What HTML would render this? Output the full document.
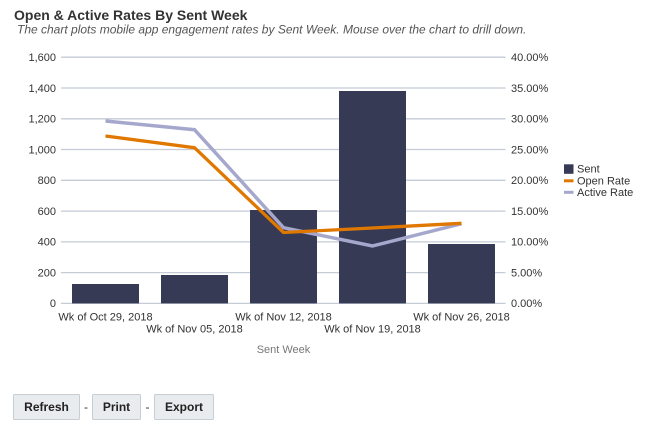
<!DOCTYPE html>
<html><head><meta charset="utf-8"><style>
html,body{margin:0;padding:0;background:#fff;width:652px;height:426px;overflow:hidden}
svg{display:block}
text{font-family:"Liberation Sans",Arial,sans-serif}
</style></head><body>
<svg width="652" height="426" viewBox="0 0 652 426" xmlns="http://www.w3.org/2000/svg">
<text x="14" y="20" font-size="14" font-weight="bold" fill="#333">Open &amp; Active Rates By Sent Week</text>
<text x="17" y="33.3" font-size="12" font-style="italic" fill="#555">The chart plots mobile app engagement rates by Sent Week. Mouse over the chart to drill down.</text>
<g stroke="#c4ccd6" stroke-width="1.3">
<line x1="61" y1="57.2" x2="505.5" y2="57.2"/>
<line x1="61" y1="88" x2="505.5" y2="88"/>
<line x1="61" y1="118.8" x2="505.5" y2="118.8"/>
<line x1="61" y1="149.5" x2="505.5" y2="149.5"/>
<line x1="61" y1="180.3" x2="505.5" y2="180.3"/>
<line x1="61" y1="211.1" x2="505.5" y2="211.1"/>
<line x1="61" y1="241.9" x2="505.5" y2="241.9"/>
<line x1="61" y1="272.6" x2="505.5" y2="272.6"/>
<line x1="61" y1="303.4" x2="505.5" y2="303.4"/>
</g>
<g font-size="11" fill="#333" text-anchor="end">
<text x="56" y="61">1,600</text>
<text x="56" y="91.8">1,400</text>
<text x="56" y="122.6">1,200</text>
<text x="56" y="153.3">1,000</text>
<text x="56" y="184.1">800</text>
<text x="56" y="214.9">600</text>
<text x="56" y="245.7">400</text>
<text x="56" y="276.4">200</text>
<text x="56" y="307.2">0</text>
</g>
<g font-size="11" fill="#333">
<text x="511" y="61">40.00%</text>
<text x="511" y="91.8">35.00%</text>
<text x="511" y="122.6">30.00%</text>
<text x="511" y="153.3">25.00%</text>
<text x="511" y="184.1">20.00%</text>
<text x="511" y="214.9">15.00%</text>
<text x="511" y="245.7">10.00%</text>
<text x="511" y="276.4">5.00%</text>
<text x="511" y="307.2">0.00%</text>
</g>
<g fill="#363a54">
<rect x="72" y="284" width="67" height="19.4"/>
<rect x="161" y="275" width="67" height="28.4"/>
<rect x="250" y="210" width="67" height="93.4"/>
<rect x="339" y="91" width="67" height="212.4"/>
<rect x="428" y="244" width="67" height="59.4"/>
</g>
<polyline points="105.5,121 194.5,129.7 283.5,227.7 372.5,246 461.5,223.7" fill="none" stroke="#a5a8cc" stroke-width="3.5" stroke-linejoin="miter"/>
<polyline points="105.5,136 194.5,147.7 283.5,232.5 372.5,228 461.5,223.3" fill="none" stroke="#e07800" stroke-width="3.3" stroke-linejoin="miter"/>
<g font-size="11" fill="#333" text-anchor="middle">
<text x="105.5" y="320.5">Wk of Oct 29, 2018</text>
<text x="194.5" y="332.5">Wk of Nov 05, 2018</text>
<text x="283.5" y="320.5">Wk of Nov 12, 2018</text>
<text x="372.5" y="332.5">Wk of Nov 19, 2018</text>
<text x="461.5" y="320.5">Wk of Nov 26, 2018</text>
</g>
<text x="283.5" y="353" font-size="11" fill="#777" text-anchor="middle">Sent Week</text>
<rect x="564" y="164.3" width="9.5" height="9.5" fill="#363a54"/>
<rect x="564" y="179.3" width="9.5" height="3" fill="#e07800"/>
<rect x="564" y="190.8" width="9.5" height="3" fill="#a5a8cc"/>
<g font-size="11" fill="#333">
<text x="577" y="172.5">Sent</text>
<text x="577" y="184.5">Open Rate</text>
<text x="577" y="196.2">Active Rate</text>
</g>
<g fill="#e8ecef" stroke="#c8cdd3" stroke-width="1">
<rect x="13.5" y="394.5" width="66" height="25" rx="1"/>
<rect x="92.5" y="394.5" width="48" height="25" rx="1"/>
<rect x="154.5" y="394.5" width="59" height="25" rx="1"/>
</g>
<g font-size="12" font-weight="bold" fill="#222" text-anchor="middle">
<text x="46.5" y="411">Refresh</text>
<text x="116.5" y="411">Print</text>
<text x="184" y="411">Export</text>
</g>
<g font-size="12" fill="#333" text-anchor="middle">
<text x="86" y="411">-</text>
<text x="147.5" y="411">-</text>
</g>
</svg>
</body></html>
